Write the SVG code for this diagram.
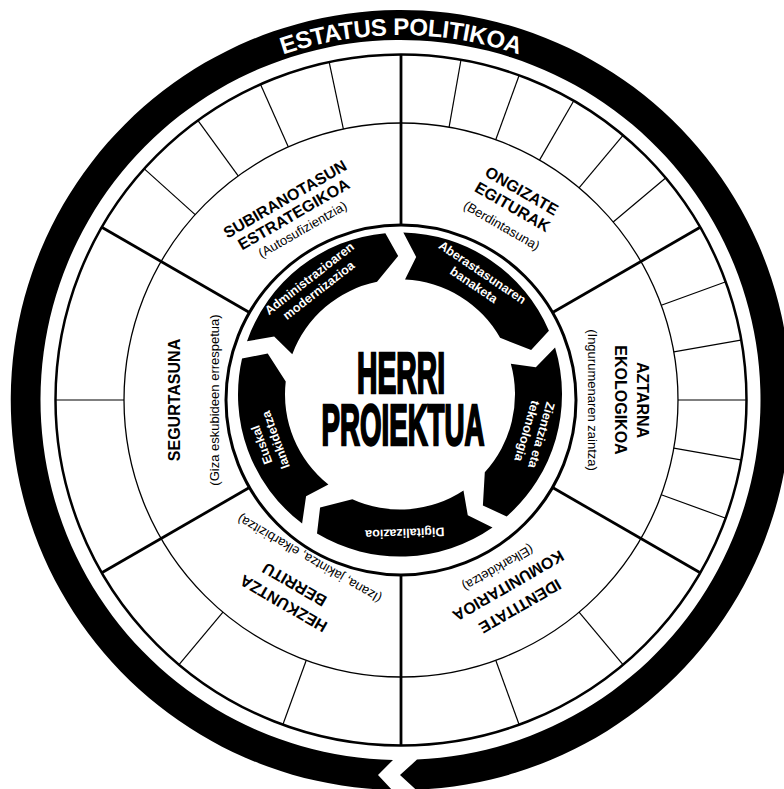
<svg xmlns="http://www.w3.org/2000/svg" width="784" height="789" viewBox="0 0 784 789">
<style>
.ring{fill:none;stroke:#000}
.thin{stroke:#000;stroke-width:1.2}
.thick{stroke:#000;stroke-width:2.8}
.lbl{font-family:"Liberation Sans",Arial,sans-serif;font-weight:bold;font-size:16px;fill:#000;text-anchor:middle}
.sub{font-family:"Liberation Sans",Arial,sans-serif;font-size:13px;fill:#000;text-anchor:middle}
.segt{font-family:"Liberation Sans",Arial,sans-serif;font-weight:bold;font-size:12.5px;fill:#fff;text-anchor:middle}
.big{font-family:"Liberation Sans",Arial,sans-serif;font-weight:bold;font-size:58px;fill:#000;stroke:#000;stroke-width:2.5;text-anchor:middle}
</style>
<defs>
<path id="segShape" d="M 58.53,-151.06 A 162 162 0 0 1 161.75,-8.99 L 138.47,3.00 L 113.42,-19.00 A 115 115 0 0 0 44.01,-106.25 L 62.24,-123.73 Z"/>
<path id="topArc" d="M 246.8,69.2 A 365 365 0 0 1 555.2,69.2"/>
</defs>
<rect width="784" height="789" fill="#fff"/>

<g id="estatus-politikoa">
<path fill="#000" d="M 417,759.6 L 400,775 L 416,789.7 A 390 390 0 1 0 392,789.9 L 378,775 L 393,759.9 A 360 360 0 1 1 417,759.6 Z"/>
<text font-family="Liberation Sans,Arial,sans-serif" font-weight="bold" font-size="24" fill="#fff" text-anchor="middle" textLength="240" lengthAdjust="spacing"><textPath href="#topArc" startOffset="50%">ESTATUS POLITIKOA</textPath></text>
</g>

<g id="connectors">
<circle class="ring" cx="401" cy="400" r="345.5" stroke-width="2.5"/>
<circle class="ring" cx="401" cy="400" r="277" stroke-width="1.3"/>
<circle class="ring" cx="401" cy="400" r="175" stroke-width="3"/>
<g transform="translate(401,400)">
<line class="thick" x1="175" y1="0" x2="345" y2="0" transform="rotate(-30)"/>
<line class="thick" x1="175" y1="0" x2="345" y2="0" transform="rotate(-90)"/>
<line class="thick" x1="175" y1="0" x2="345" y2="0" transform="rotate(-150)"/>
<line class="thick" x1="175" y1="0" x2="345" y2="0" transform="rotate(-210)"/>
<line class="thick" x1="175" y1="0" x2="345" y2="0" transform="rotate(-270)"/>
<line class="thick" x1="175" y1="0" x2="345" y2="0" transform="rotate(-330)"/>
<line class="thin" x1="277" y1="0" x2="345" y2="0" transform="rotate(-40)"/>
<line class="thin" x1="277" y1="0" x2="345" y2="0" transform="rotate(-50)"/>
<line class="thin" x1="277" y1="0" x2="345" y2="0" transform="rotate(-60)"/>
<line class="thin" x1="277" y1="0" x2="345" y2="0" transform="rotate(-70)"/>
<line class="thin" x1="277" y1="0" x2="345" y2="0" transform="rotate(-80)"/>
<line class="thin" x1="277" y1="0" x2="345" y2="0" transform="rotate(-102)"/>
<line class="thin" x1="277" y1="0" x2="345" y2="0" transform="rotate(-114)"/>
<line class="thin" x1="277" y1="0" x2="345" y2="0" transform="rotate(-126)"/>
<line class="thin" x1="277" y1="0" x2="345" y2="0" transform="rotate(-138)"/>
<line class="thin" x1="277" y1="0" x2="345" y2="0" transform="rotate(-180)"/>
<line class="thin" x1="277" y1="0" x2="345" y2="0" transform="rotate(-230)"/>
<line class="thin" x1="277" y1="0" x2="345" y2="0" transform="rotate(-250)"/>
<line class="thin" x1="277" y1="0" x2="345" y2="0" transform="rotate(-290)"/>
<line class="thin" x1="277" y1="0" x2="345" y2="0" transform="rotate(-310)"/>
<line class="thin" x1="277" y1="0" x2="345" y2="0" transform="rotate(-340)"/>
<line class="thin" x1="277" y1="0" x2="345" y2="0" transform="rotate(-350)"/>
<line class="thin" x1="277" y1="0" x2="345" y2="0" transform="rotate(0)"/>
<line class="thin" x1="277" y1="0" x2="345" y2="0" transform="rotate(-10)"/>
<line class="thin" x1="277" y1="0" x2="345" y2="0" transform="rotate(-20)"/>
</g>
</g>

<g id="subiranotasun" transform="translate(401,400) rotate(-30)">
<text class="lbl" y="-226.5">SUBIRANOTASUN</text>
<text class="lbl" y="-209">ESTRATEGIKOA</text>
<text class="sub" y="-192.5">(Autosufizientzia)</text>
</g>
<g id="ongizate" transform="translate(401,400) rotate(30)">
<text class="lbl" y="-236">ONGIZATE</text>
<text class="lbl" y="-217.5">EGITURAK</text>
<text class="sub" y="-197">(Berdintasuna)</text>
</g>
<g id="aztarna" transform="translate(401,400) rotate(90)">
<text class="lbl" y="-236">AZTARNA</text>
<text class="lbl" y="-214">EKOLOGIKOA</text>
<text class="sub" y="-186.5">(Ingurumenaren zaintza)</text>
</g>
<g id="identitate" transform="translate(401,400) rotate(150)">
<text class="lbl" y="-232.5">IDENTITATE</text>
<text class="lbl" y="-209">KOMUNITARIOA</text>
<text class="sub" y="-189.5">(Elkarkidetza)</text>
</g>
<g id="hezkuntza" transform="translate(401,400) rotate(210)">
<text class="lbl" y="-229.5">HEZKUNTZA</text>
<text class="lbl" y="-207.5">BERRITU</text>
<text class="sub" y="-179">(Izana, jakintza, elkarbizitza)</text>
</g>
<g id="segurtasuna" transform="translate(401,400) rotate(-90)">
<text class="lbl" y="-221">SEGURTASUNA</text>
<text class="sub" y="-182.5">(Giza eskubideen errespetua)</text>
</g>

<g id="administrazioa" transform="translate(400,394.5)">
<use href="#segShape" transform="rotate(-92)"/>
<g transform="rotate(-38)"><text class="segt" y="-143">Administrazioaren</text><text class="segt" y="-128">modernizazioa</text></g>
</g>
<g id="aberastasuna" transform="translate(400,394.5)">
<use href="#segShape" transform="rotate(-20)"/>
<g transform="rotate(34)"><text class="segt" y="-143">Aberastasunaren</text><text class="segt" y="-128">banaketa</text></g>
</g>
<g id="zientzia" transform="translate(400,394.5)">
<use href="#segShape" transform="rotate(52)"/>
<g transform="rotate(106)"><text class="segt" y="-143">Zientzia eta</text><text class="segt" y="-128">teknologia</text></g>
</g>
<g id="digitalizazioa" transform="translate(400,394.5)">
<use href="#segShape" transform="rotate(124)"/>
<g transform="rotate(178)"><text class="segt" y="-134.5">Digitalizazioa</text></g>
</g>
<g id="euskal" transform="translate(400,394.5)">
<use href="#segShape" transform="rotate(196)"/>
<g transform="rotate(-110)"><text class="segt" y="-143">Euskal</text><text class="segt" y="-128">lankidetza</text></g>
</g>

<g id="herri-proiektua">
<text class="big"><tspan x="401" y="393" textLength="88" lengthAdjust="spacingAndGlyphs">HERRI</tspan><tspan x="403" y="445" textLength="163" lengthAdjust="spacingAndGlyphs">PROIEKTUA</tspan></text>
</g>
</svg>
